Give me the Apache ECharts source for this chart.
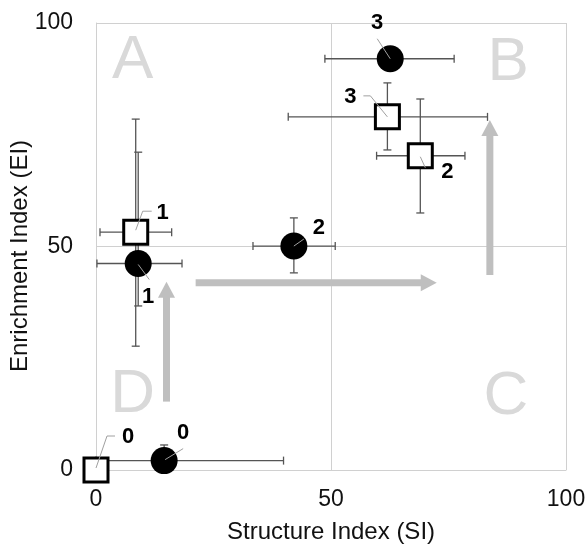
<!DOCTYPE html>
<html>
<head>
<meta charset="utf-8">
<script src="https://cdn.jsdelivr.net/npm/echarts@6/dist/echarts.min.js"></script>
<style>
html,body{margin:0;padding:0;background:#fff;}
#chart{width:588px;height:545px;}
</style>
</head>
<body>
<div id="chart"></div>
<script>
// ---- data ----
const stageLabels = ['0', '1', '2', '3'];
// open squares
const sqX     = [0, 8.45, 69.0, 62.0];
const sqY     = [0, 53.2, 70.3, 79.0];
const sqXLow  = [0, 0.85, 59.7, 40.9];
const sqXHigh = [0, 16.1, 78.5, 83.3];
const sqYLow  = [0, 27.7, 57.5, 71.6];
const sqYHigh = [0, 78.5, 83.0, 86.6];
// filled circles
const ciX     = [14.5, 8.98, 42.1, 62.6];
const ciY     = [2.1, 46.2, 50.1, 92.0];
const ciXLow  = [0, 0.2, 33.4, 48.7];
const ciXHigh = [39.9, 18.3, 50.9, 76.2];
const ciYLow  = [0, 36.7, 44.1, 92.0];
const ciYHigh = [5.6, 71.1, 56.4, 92.0];
// quadrant letters
const quadLetters = ['A', 'B', 'C', 'D'];
const quadX = [7.8, 87.7, 87.2, 7.8];
const quadY = [91.5, 91.0, 16.4, 16.7];
// trend arrows (from -> to)
const arrowX1 = [15.0, 21.2, 83.8];
const arrowY1 = [15.3, 41.9, 43.6];
const arrowX2 = [15.0, 72.5, 83.8];
const arrowY2 = [42.1, 41.9, 78.3];
const axisTicks = [0, 50, 100];
const xTitle = 'Structure Index (SI)';
const yTitle = 'Enrichment Index (EI)';

// ---- label layout (pixel offsets from point) ----
const sqLabelLayout = [
  {dx: 32, dy: -33, lead: [[0, -2], [11, -34], [19, -34]]},
  {dx: 27, dy: -19, lead: [[0, -2], [7, -21], [16, -21]]},
  {dx: 27, dy: 16, lead: [[0, 1], [5, 12]]},
  {dx: -37, dy: -20, lead: [[0, 0], [-17, -21], [-24, -21]]}
];
const ciLabelLayout = [
  {dx: 19, dy: -28, lead: [[1, -1], [19, -12]]},
  {dx: 10, dy: 33, lead: [[0, 1], [11, 16]]},
  {dx: 25, dy: -18, lead: [[0, 0], [10, -7]]},
  {dx: -13, dy: -36, lead: [[0, 0], [-13, -20]]}
];

const FONT = '"Liberation Sans", Arial, Helvetica, sans-serif';

function rows(xs, ys, xl, xh, yl, yh) {
  return xs.map((x, i) => [x, ys[i], xl[i], xh[i], yl[i], yh[i]]);
}
const sqErr = rows(sqX, sqY, sqXLow, sqXHigh, sqYLow, sqYHigh);
const ciErr = rows(ciX, ciY, ciXLow, ciXHigh, ciYLow, ciYHigh);

function renderErr(params, api) {
  const x = api.value(0), y = api.value(1);
  const xl = api.value(2), xh = api.value(3), yl = api.value(4), yh = api.value(5);
  const st = {stroke: '#555555', lineWidth: 1.3};
  const cap = 4;
  const ch = [];
  if (xh > xl) {
    const a = api.coord([xl, y]), b = api.coord([xh, y]);
    ch.push({type: 'line', shape: {x1: a[0], y1: a[1], x2: b[0], y2: b[1]}, style: st});
    ch.push({type: 'line', shape: {x1: a[0], y1: a[1] - cap, x2: a[0], y2: a[1] + cap}, style: st});
    ch.push({type: 'line', shape: {x1: b[0], y1: b[1] - cap, x2: b[0], y2: b[1] + cap}, style: st});
  }
  if (yh > yl) {
    const a = api.coord([x, yl]), b = api.coord([x, yh]);
    ch.push({type: 'line', shape: {x1: a[0], y1: a[1], x2: b[0], y2: b[1]}, style: st});
    ch.push({type: 'line', shape: {x1: a[0] - cap, y1: a[1], x2: a[0] + cap, y2: a[1]}, style: st});
    ch.push({type: 'line', shape: {x1: b[0] - cap, y1: b[1], x2: b[0] + cap, y2: b[1]}, style: st});
  }
  return {type: 'group', children: ch};
}

function makeLabelRenderer(layout) {
  return function (params, api) {
    const p = api.coord([api.value(0), api.value(1)]);
    const L = layout[params.dataIndex];
    const pts = L.lead.map(o => [p[0] + o[0], p[1] + o[1]]);
    return {
      type: 'group',
      children: [
        {type: 'polyline', shape: {points: pts}, style: {stroke: '#a0a0a0', lineWidth: 1, fill: null}},
        {type: 'text', x: p[0] + L.dx, y: p[1] + L.dy,
          style: {text: stageLabels[params.dataIndex], fill: '#000', font: 'bold 22px ' + FONT, align: 'center', verticalAlign: 'middle'}}
      ]
    };
  };
}

function renderArrow(params, api) {
  const a = api.coord([api.value(0), api.value(1)]);
  const b = api.coord([api.value(2), api.value(3)]);
  const dx = b[0] - a[0], dy = b[1] - a[1];
  const len = Math.sqrt(dx * dx + dy * dy);
  const ux = dx / len, uy = dy / len;
  const headL = 16, headW = 8.5;
  const bx = b[0] - ux * headL, by = b[1] - uy * headL;
  const px = -uy, py = ux;
  const col = '#bfbfbf';
  return {
    type: 'group',
    children: [
      {type: 'line', shape: {x1: a[0], y1: a[1], x2: bx + ux, y2: by + uy}, style: {stroke: col, lineWidth: 7, lineCap: 'butt'}},
      {type: 'polygon', shape: {points: [[b[0], b[1]], [bx + px * headW, by + py * headW], [bx - px * headW, by - py * headW]]}, style: {fill: col}}
    ]
  };
}

function renderQuad(params, api) {
  const p = api.coord([api.value(0), api.value(1)]);
  return {type: 'text', x: p[0], y: p[1],
    style: {text: quadLetters[params.dataIndex], fill: '#d9d9d9', font: '62px ' + FONT, align: 'center', verticalAlign: 'middle'}};
}

const chart = echarts.init(document.getElementById('chart'), null, {renderer: 'canvas'});
const axisCommon = {
  type: 'value', min: 0, max: 100, interval: 50,
  axisLine: {show: true, lineStyle: {color: '#d0d0d0', width: 1}},
  axisTick: {show: false},
  splitLine: {show: true, lineStyle: {color: '#d0d0d0', width: 1}},
  nameLocation: 'middle',
  nameTextStyle: {fontFamily: FONT, fontSize: 24, color: '#111'}
};
chart.setOption({
  animation: false,
  backgroundColor: '#fff',
  grid: {left: 96, right: 22, top: 23, bottom: 75, containLabel: false, outerBoundsMode: 'none'},
  graphic: [
    {type: 'text', x: 20, y: 256, rotation: Math.PI / 2,
      style: {text: yTitle, font: '24px ' + FONT, fill: '#111', align: 'center', verticalAlign: 'middle'}}
  ],
  xAxis: Object.assign({}, axisCommon, {
    name: xTitle, nameGap: 50,
    axisLabel: {fontFamily: FONT, fontSize: 23, color: '#111', margin: 18,
      formatter: v => axisTicks.indexOf(v) >= 0 ? String(v) : ''}
  }),
  yAxis: Object.assign({}, axisCommon, {
    axisLabel: {fontFamily: FONT, fontSize: 23, color: '#111', margin: 23,
      formatter: v => axisTicks.indexOf(v) >= 0 ? String(v) : ''}
  }),
  series: [
    {type: 'custom', name: 'quadrants', z: 0, silent: true, renderItem: renderQuad,
      data: quadX.map((x, i) => [x, quadY[i]]), encode: {x: 0, y: 1}},
    {type: 'custom', name: 'arrows', z: 1, silent: true, renderItem: renderArrow,
      data: arrowX1.map((x, i) => [x, arrowY1[i], arrowX2[i], arrowY2[i]]), encode: {x: [0, 2], y: [1, 3]}},
    {type: 'custom', name: 'sqErr', z: 2, silent: true, renderItem: renderErr, data: sqErr, encode: {x: 0, y: 1}},
    {type: 'custom', name: 'ciErr', z: 2, silent: true, renderItem: renderErr, data: ciErr, encode: {x: 0, y: 1}},
    {type: 'scatter', name: 'squares', z: 3, symbol: 'rect', symbolSize: 24,
      itemStyle: {color: '#fff', borderColor: '#000', borderWidth: 3, opacity: 1},
      data: sqX.map((x, i) => [x, sqY[i]])},
    {type: 'scatter', name: 'circles', z: 3, symbol: 'circle', symbolSize: 27,
      itemStyle: {color: '#000', opacity: 1},
      data: ciX.map((x, i) => [x, ciY[i]])},
    {type: 'custom', name: 'sqLabels', z: 4, silent: true, renderItem: makeLabelRenderer(sqLabelLayout),
      data: sqX.map((x, i) => [x, sqY[i]]), encode: {x: 0, y: 1}},
    {type: 'custom', name: 'ciLabels', z: 4, silent: true, renderItem: makeLabelRenderer(ciLabelLayout),
      data: ciX.map((x, i) => [x, ciY[i]]), encode: {x: 0, y: 1}}
  ]
});
</script>
</body>
</html>
